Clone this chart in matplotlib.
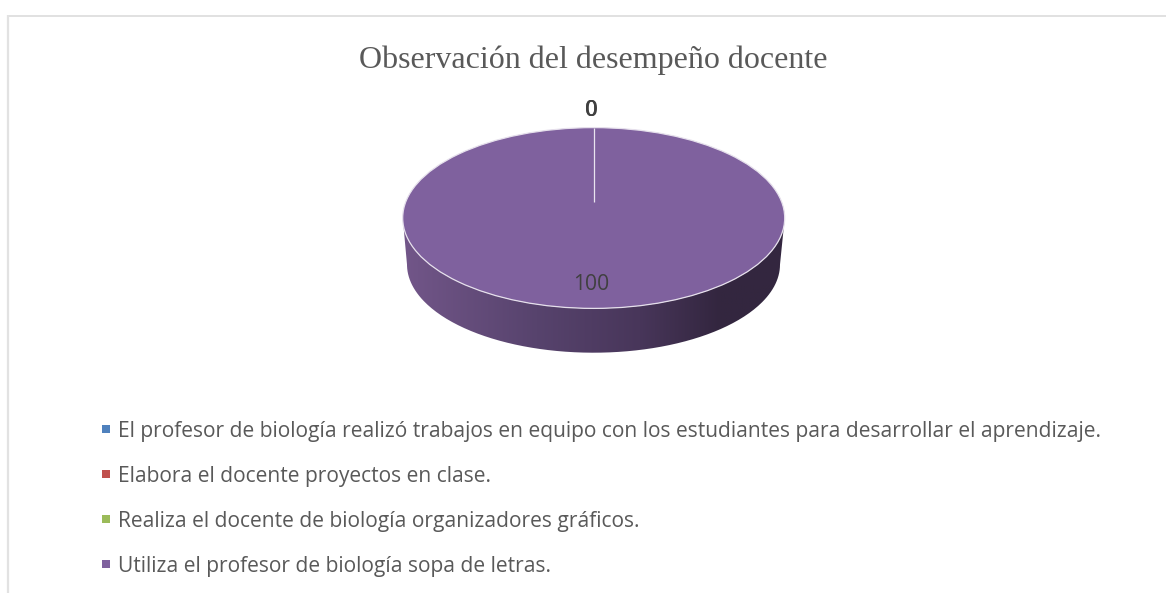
import numpy as np
import matplotlib
matplotlib.use("Agg")
import matplotlib.pyplot as plt
from matplotlib.colors import LinearSegmentedColormap
from matplotlib.patches import Ellipse, PathPatch
from matplotlib.path import Path

title = "Observación del desempeño docente"
categories = [
    "El profesor de biología realizó trabajos en equipo con los estudiantes para desarrollar el aprendizaje.",
    "Elabora el docente proyectos en clase.",
    "Realiza el docente de biología organizadores gráficos.",
    "Utiliza el profesor de biología sopa de letras.",
]
values = [0, 0, 0, 100]
colors = ["#4f81bd", "#c0504d", "#9bbb59", "#7f619e"]

W, H = 1166, 593
fig = plt.figure(figsize=(W / 100, H / 100), dpi=100, facecolor="white")

# pixel-space canvas
bg = fig.add_axes([0, 0, 1, 1])
bg.set_xlim(0, W)
bg.set_ylim(H, 0)
bg.axis("off")

# chart frame
bg.plot([7, W], [15.5, 15.5], color="#dcdcdc", lw=1.2, solid_capstyle="butt")
bg.plot([7.5, 7.5], [15, H], color="#e2e2e2", lw=1.6, solid_capstyle="butt")

# pie geometry
cx, cy, rx, ry = 593.7, 218.0, 191.0, 90.4
bx, by, brx, bry = 593.5, 264.5, 186.5, 88.2
hinge_y = 201.7

# side wall of the 3-D pie
theta_top = np.linspace(np.pi * 0.97, np.pi * 0.03, 160)
theta_b = np.linspace(0, np.pi, 200)
xs = np.r_[cx + rx * np.cos(theta_top), bx + brx * np.cos(theta_b)]
ys = np.r_[cy + ry * np.sin(theta_top), by + bry * np.sin(theta_b)]
clip = PathPatch(Path(np.c_[xs, ys]), transform=bg.transData, facecolor="none", edgecolor="none")
bg.add_patch(clip)
cmap = LinearSegmentedColormap.from_list(
    "side",
    [(0.0, "#725689"), (0.35, "#57436d"), (0.62, "#48365a"), (0.83, "#33263f"), (1.0, "#33273f")],
)
grad = np.linspace(0, 1, 256)[None, :]
im = bg.imshow(grad, extent=[cx - rx, cx + rx, by + bry + 1, cy], cmap=cmap, aspect="auto", zorder=2)
im.set_clip_path(clip)
bg.set_xlim(0, W)
bg.set_ylim(H, 0)

# top face of the pie, from the data
pie_ax = fig.add_axes([(cx - rx) / W, 1 - (cy + ry) / H, 2 * rx / W, 2 * ry / H], zorder=3)
pie_ax.pie(values, colors=colors, startangle=90, counterclock=False, radius=1,
           wedgeprops={"linewidth": 0})
pie_ax.set_xlim(-1, 1)
pie_ax.set_ylim(-1, 1)
pie_ax.set_aspect("auto")
pie_ax.patch.set_visible(False)

# overlay for rim, hinge line and labels
fg = fig.add_axes([0, 0, 1, 1], zorder=4)
fg.set_xlim(0, W)
fg.set_ylim(H, 0)
fg.axis("off")
fg.add_patch(Ellipse((cx, cy), 2 * rx, 2 * ry, facecolor="none", edgecolor="#e6e0ec", lw=0.9))
fg.plot([cx, cx], [cy - ry, hinge_y], color="#e9e4ef", lw=0.9, solid_capstyle="butt")

font = "Open Sans"
for i, v in enumerate(values):
    if v == 0:
        fg.text(591.2 + (i - 1) * 0.6, 108.5, str(v), ha="center", va="center_baseline",
                fontsize=15.2, color="#404040", family=font)
    else:
        fg.text(591.5, 282.5, str(v), ha="center", va="center_baseline",
                fontsize=15.2, color="#404040", family=font)

fg.text(593.5, 57, title, ha="center", va="center_baseline", fontsize=23,
        color="#595959", family="Liberation Serif")

# legend
leg_y = [429, 474.3, 519.3, 564.3]
for name, col, y in zip(categories, colors, leg_y):
    fg.scatter([106.2], [y], marker="s", s=29, color=col, linewidths=0)
    fg.text(118, y, name, ha="left", va="center_baseline", fontsize=15.08,
            color="#595959", family=font)

fig.savefig("out.png", dpi=100, facecolor="white")
